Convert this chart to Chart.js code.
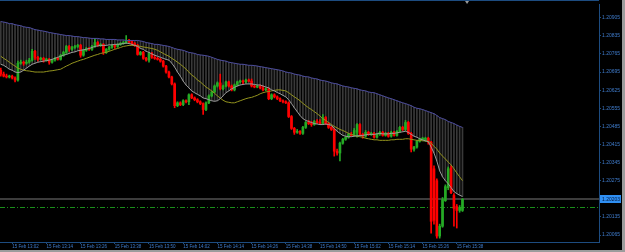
<!DOCTYPE html>
<html>
<head>
<meta charset="utf-8">
<script src="https://cdn.jsdelivr.net/npm/chart.js@4.4.1/dist/chart.umd.min.js"></script>
<style>
  html, body { margin: 0; padding: 0; background: #000; }
</style>
</head>
<body>
<canvas id="chart" width="625" height="252"></canvas>
<script>
// EURUSD M1, 15 Feb 12:58 .. 15:40. Prices in points above 1.20000
const opens = [702,687,679,676,679,672,664,729,733,729,
  733,741,775,752,744,748,741,744,733,741,
  748,744,760,771,794,783,790,794,798,760,
  779,786,783,794,809,798,802,771,783,790,
  798,794,802,805,809,817,813,805,798,763,
  771,748,741,767,752,748,744,737,718,695,
  676,649,565,576,569,584,580,607,595,588,
  580,573,550,576,603,618,641,653,630,641,
  657,641,626,645,657,660,657,664,660,641,
  637,641,634,626,630,592,607,599,592,584,
  580,576,523,477,462,466,458,481,500,496,
  492,504,500,496,519,496,481,473,389,382,
  420,435,443,454,450,462,492,454,447,462,
  454,458,443,454,462,450,458,447,462,450,
  466,481,473,500,458,397,405,427,435,431,
  439,424,321,275,61,99,198,248,324,218,
  175,160,160];
const highs = [710,695,687,683,683,676,737,741,737,741,
  748,783,779,756,752,752,748,748,744,752,
  752,763,775,798,798,794,798,802,802,783,
  790,790,798,825,813,805,805,786,794,802,
  802,805,809,813,836,821,817,809,802,775,
  775,752,771,771,760,752,748,741,721,699,
  679,653,580,580,588,588,611,611,599,592,
  584,576,580,607,622,645,657,687,645,660,
  660,645,649,660,664,664,668,668,668,645,
  645,645,641,634,634,611,611,603,595,588,
  584,580,527,481,473,469,485,504,508,504,
  508,511,511,531,523,500,485,477,397,424,
  439,447,458,462,477,496,496,458,469,466,
  462,462,458,466,466,462,462,466,466,469,
  485,485,508,504,462,408,431,439,443,443,
  443,427,332,282,107,210,259,328,332,225,
  183,179,206];
const lows = [679,676,672,672,668,657,660,725,721,725,
  729,737,744,737,741,733,737,725,729,737,
  741,741,756,767,775,779,786,790,752,756,
  775,779,779,790,794,794,763,767,779,786,
  786,790,798,802,805,809,802,794,760,760,
  744,737,733,748,744,741,733,714,691,672,
  645,557,561,565,565,576,569,592,584,576,
  569,531,546,573,599,615,637,626,626,637,
  637,622,622,641,653,649,653,657,637,634,
  634,630,622,622,588,588,595,588,580,576,
  573,519,473,454,458,454,454,477,492,485,
  489,496,492,492,492,477,469,370,374,351,
  416,431,439,447,447,443,450,439,443,450,
  450,439,439,450,447,447,443,443,447,447,
  462,469,469,454,386,389,401,424,431,427,
  416,72,107,53,53,95,195,240,225,99,
  92,153,156];
const closes = [687,679,676,679,672,664,729,733,729,733,
  741,775,752,744,748,741,744,733,741,748,
  744,760,771,794,783,790,794,798,760,779,
  786,783,794,809,798,802,771,783,790,798,
  794,802,805,809,817,813,805,798,763,771,
  748,741,767,752,748,744,737,718,695,676,
  649,565,576,569,584,580,607,595,588,580,
  573,550,576,603,618,641,653,630,641,657,
  641,626,645,657,660,657,664,660,641,637,
  641,634,626,630,592,607,599,592,584,580,
  576,523,477,462,466,458,481,500,496,492,
  504,500,496,519,496,481,473,389,382,420,
  435,443,454,450,469,492,454,447,462,454,
  458,443,454,462,450,458,447,462,450,466,
  481,473,500,458,397,405,427,435,439,439,
  424,118,122,61,99,202,252,321,229,168,
  160,172,203];
const upperBand = [890,888,886,882,882,878,876,874,870,868,
  867,863,859,857,855,853,851,848,846,844,
  842,840,838,836,836,834,832,832,830,828,
  828,826,825,825,825,823,823,821,821,821,
  821,819,819,819,817,817,817,817,817,815,
  813,809,807,805,802,802,800,798,796,794,
  790,786,783,781,779,775,771,769,767,763,
  761,760,758,756,752,748,744,741,739,737,
  733,731,729,727,725,725,723,721,721,720,
  718,716,714,712,710,708,706,704,702,699,
  695,693,691,687,685,683,679,677,676,672,
  670,668,664,662,660,657,653,651,649,645,
  641,639,637,634,632,630,626,624,622,618,
  616,615,611,607,603,599,595,592,588,584,
  580,576,573,569,565,559,555,553,550,546,
  542,538,534,527,519,515,511,504,500,496,
  490,485,481];
const fastMA = [725,721,714,706,702,695,693,695,702,710,
  718,725,729,733,735,737,739,741,744,748,
  752,756,760,763,767,771,773,777,779,781,
  783,786,790,794,796,798,798,798,800,800,
  802,802,803,805,807,805,802,798,794,786,
  783,775,771,765,760,756,752,748,744,741,
  729,714,695,679,660,645,634,622,615,609,
  603,595,592,588,584,582,584,592,603,615,
  622,630,636,641,645,647,649,649,649,647,
  645,645,641,637,634,626,622,616,611,605,
  599,588,573,557,542,527,515,508,504,500,
  496,494,492,492,494,492,489,477,466,458,
  450,447,445,445,447,448,450,450,452,454,
  454,454,456,458,456,456,456,458,458,460,
  462,464,466,462,454,447,443,437,433,429,
  426,405,382,351,313,290,275,263,248,233,
  225,219,214];
const slowMA = [756,748,741,733,725,718,710,706,702,700,
  699,697,695,695,695,695,697,699,700,702,
  704,706,712,718,723,729,733,737,741,744,
  748,752,756,760,763,767,769,771,775,779,
  783,786,790,794,796,798,798,798,796,794,
  792,790,788,786,783,779,773,767,761,756,
  748,741,733,725,716,706,695,683,676,664,
  657,647,637,630,622,613,603,594,586,580,
  578,576,576,580,584,588,592,595,597,601,
  605,611,615,618,620,622,624,626,626,624,
  622,615,607,599,592,584,574,565,557,550,
  542,534,525,515,508,500,492,485,479,473,
  469,464,458,454,450,447,445,443,439,437,
  435,433,433,431,431,431,431,433,433,435,
  435,435,437,437,435,433,431,431,429,429,
  427,420,408,397,382,370,359,347,336,321,
  305,290,275];

const priceTicks = [1.20065, 1.20135, 1.20275, 1.20345, 1.20415, 1.20485,
  1.20555, 1.20625, 1.20695, 1.20765, 1.20835, 1.20905];
const timeTickBars = [4, 16, 28, 40, 52, 64, 76, 88, 100, 112, 124, 136, 148, 160];
const timeTickLabels = ['15 Feb 13:02', '15 Feb 13:14', '15 Feb 13:26', '15 Feb 13:38',
  '15 Feb 13:50', '15 Feb 14:02', '15 Feb 14:14', '15 Feb 14:26', '15 Feb 14:38',
  '15 Feb 14:50', '15 Feb 15:02', '15 Feb 15:14', '15 Feb 15:26', '15 Feb 15:38'];
const bidPrice = 1.20203;
const askPrice = 1.20175;
const shiftBar = 163.6;

const BULL = '#25aa25';
const BEAR = '#ff0000';
const AXIS = '#1d4c80';
const LABEL = '#3f7ccc';

function toPrice(p) {
  return +(1.2 + p / 100000).toFixed(5);
}

var idx = closes.map((c, i) => i);
var candleColors = idx.map(i => closes[i] >= opens[i] ? BULL : BEAR);

// background, bid/ask lines, borders and the price tag
const terminalLook = {
  id: 'terminalLook',
  beforeDraw(chart) {
    const ctx = chart.ctx;
    ctx.save();
    ctx.fillStyle = '#000';
    ctx.fillRect(0, 0, chart.width, chart.height);
    ctx.restore();
  },
  beforeDatasetsDraw(chart) {
    const ctx = chart.ctx;
    const a = chart.chartArea;
    const y = chart.scales.y;
    ctx.save();
    const yb = Math.round(y.getPixelForValue(bidPrice));
    ctx.fillStyle = '#3c3c3c';
    ctx.fillRect(a.left, yb - 1, a.right - a.left, 2);
    const ya = Math.round(y.getPixelForValue(askPrice)) + 0.5;
    ctx.strokeStyle = '#1a8e1a';
    ctx.lineWidth = 1;
    ctx.setLineDash([5, 2, 1, 2]);
    ctx.beginPath();
    ctx.moveTo(a.left, ya);
    ctx.lineTo(a.right, ya);
    ctx.stroke();
    ctx.restore();
  },
  afterDraw(chart) {
    const ctx = chart.ctx;
    const a = chart.chartArea;
    const y = chart.scales.y;
    const x = chart.scales.x;
    ctx.save();
    // top border
    ctx.fillStyle = AXIS;
    ctx.fillRect(0, 0, a.right, 1);
    // shift marker
    const sx = x.getPixelForValue(shiftBar);
    ctx.fillStyle = '#9a9a9a';
    ctx.beginPath();
    ctx.moveTo(sx - 2, 1);
    ctx.lineTo(sx + 2, 1);
    ctx.lineTo(sx, 4);
    ctx.closePath();
    ctx.fill();
    // bid price tag
    const yb = Math.round(y.getPixelForValue(bidPrice));
    ctx.fillStyle = '#2f8ff2';
    ctx.fillRect(a.right + 1, yb - 4, 21, 8);
    ctx.fillStyle = '#00163a';
    ctx.font = '5px "Liberation Sans"';
    ctx.textBaseline = 'middle';
    ctx.fillText(bidPrice.toFixed(5), a.right + 3, yb + 0.5);
    // window frame
    ctx.fillStyle = '#9c9c9c';
    ctx.fillRect(622, 0, 3, chart.height);
    ctx.fillRect(0, 250, chart.width, 2);
    ctx.restore();
  }
};

new Chart(document.getElementById('chart'), {
  type: 'bar',
  data: {
    datasets: [
      {
        type: 'line', order: 0,
        data: idx.map(i => ({x: i, y: toPrice(upperBand[i])})),
        borderColor: '#4c4ca0', borderWidth: 1, pointRadius: 0
      },
      {
        type: 'line', order: 0,
        data: idx.map(i => ({x: i, y: toPrice(fastMA[i])})),
        borderColor: '#9c9c9c', borderWidth: 1, pointRadius: 0
      },
      {
        type: 'line', order: 0,
        data: idx.map(i => ({x: i, y: toPrice(slowMA[i])})),
        borderColor: '#94941e', borderWidth: 1, pointRadius: 0
      },
      {
        order: 1, grouped: false,
        data: idx.map(i => ({x: i, y: [toPrice(opens[i]), toPrice(closes[i])]})),
        backgroundColor: candleColors, barThickness: 2, minBarLength: 1
      },
      {
        order: 2, grouped: false,
        data: idx.map(i => ({x: i, y: [toPrice(lows[i]), toPrice(highs[i])]})),
        backgroundColor: candleColors, barThickness: 1
      },
      {
        order: 3, grouped: false,
        data: idx.map(i => ({x: i, y: [toPrice(fastMA[i]), toPrice(upperBand[i])]})),
        backgroundColor: 'rgba(150,150,150,0.38)', barThickness: 1
      }
    ]
  },
  options: {
    responsive: false,
    animation: false,
    events: [],
    layout: { padding: { top: 1, left: 0, right: 0, bottom: 0 } },
    plugins: { legend: { display: false }, tooltip: { enabled: false } },
    scales: {
      x: {
        type: 'linear',
        position: 'bottom',
        min: -0.28,
        max: 209.9,
        offset: false,
        afterFit: s => { s.height = 10; },
        afterBuildTicks: s => { s.ticks = timeTickBars.map(v => ({value: v})); },
        grid: { drawOnChartArea: false, offset: false, tickLength: 2, color: AXIS },
        border: { color: AXIS },
        ticks: {
          autoSkip: false,
          maxRotation: 0,
          minRotation: 0,
          align: 'start',
          padding: 0,
          color: LABEL,
          font: { family: 'Liberation Sans', size: 4.5 },
          callback: (v, i) => timeTickLabels[i]
        }
      },
      y: {
        type: 'linear',
        position: 'right',
        min: 1.20038,
        max: 1.20958,
        afterFit: s => { s.width = 26; },
        afterBuildTicks: s => { s.ticks = priceTicks.map(v => ({value: v})); },
        grid: { drawOnChartArea: false, tickLength: 2, color: AXIS },
        border: { color: AXIS },
        ticks: {
          padding: 1,
          color: LABEL,
          font: { family: 'Liberation Sans', size: 5 },
          callback: v => v.toFixed(5)
        }
      }
    }
  },
  plugins: [terminalLook]
});
</script>
</body>
</html>
